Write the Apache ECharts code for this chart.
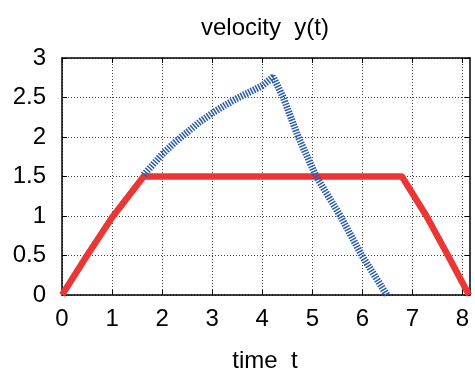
<!DOCTYPE html>
<html>
<head>
<meta charset="utf-8">
<script src="https://cdn.jsdelivr.net/npm/echarts@6/dist/echarts.min.js"></script>
<style>
  html, body { margin: 0; padding: 0; background: #fff; }
  #chart { width: 475px; height: 371px; }
</style>
</head>
<body>
<div id="chart"></div>
<script>
// red: trapezoid profile, blue: curved rise then drop
const redT = [0, 0.5, 1, 1.63, 6.79, 7.28, 7.71, 8.13]
const redV = [0, 0.5, 0.98, 1.5, 1.5, 1.0, 0.5, 0]
const blueT = [1.63, 2, 2.25, 2.5, 2.75, 3, 3.25, 3.5, 3.75, 4, 4.22, 4.42, 4.72, 5.08, 5.56, 5.99, 6.49]
const blueV = [1.52, 1.78, 1.93, 2.06, 2.19, 2.30, 2.40, 2.49, 2.57, 2.65, 2.76, 2.5, 2.0, 1.5, 1.0, 0.5, 0]
const xTicks = [0, 1, 2, 3, 4, 5, 6, 7, 8]
const yTicks = [0, 0.5, 1, 1.5, 2, 2.5, 3]

const font = 'Liberation Sans, Arial, sans-serif'
const pair = (xs, ys) => xs.map((x, i) => [x, ys[i]])

const chart = echarts.init(document.getElementById('chart'), null, { renderer: 'canvas' })

const gridLine = { show: true, lineStyle: { color: '#444', type: [1, 2], width: 1 } }
const tick = { show: true, inside: true, length: 5, lineStyle: { color: '#000', width: 1 } }
const axisLine = { show: true, onZero: false, lineStyle: { color: '#000', width: 1.5 } }
const titleText = { fontFamily: font, fontSize: 24, fontWeight: 'normal', color: '#000' }

chart.setOption({
  animation: false,
  textStyle: { fontFamily: font },
  title: [
    { text: 'velocity  y(t)', left: 260, top: 11, textAlign: 'center', textStyle: titleText },
    { text: 'time  t', left: 260, top: 344, textAlign: 'center', textStyle: titleText }
  ],
  grid: { left: 62, right: 5, top: 58, bottom: 76, outerBoundsMode: 'none', containLabel: false },
  xAxis: [{
    type: 'value', min: 0, max: 8.15, interval: 1,
    axisLine, axisTick: { ...tick, customValues: xTicks },
    splitLine: gridLine,
    axisLabel: { customValues: xTicks, fontSize: 24, color: '#000', margin: 12, fontFamily: font }
  }, {
    type: 'value', position: 'top', min: 0, max: 8.15, interval: 1,
    axisLine, axisTick: { ...tick, customValues: xTicks },
    splitLine: { show: false }, axisLabel: { show: false }
  }],
  yAxis: [{
    type: 'value', min: 0, max: 3, interval: 0.5,
    axisLine, axisTick: { ...tick, customValues: yTicks },
    splitLine: gridLine,
    axisLabel: { customValues: yTicks, fontSize: 24, color: '#000', margin: 16, fontFamily: font }
  }, {
    type: 'value', position: 'right', min: 0, max: 3, interval: 0.5,
    axisLine, axisTick: { ...tick, customValues: yTicks },
    splitLine: { show: false }, axisLabel: { show: false }
  }],
  series: [{
    type: 'line', data: pair(redT, redV), symbol: 'none', z: 3,
    lineStyle: { color: '#ec3636', width: 6.5, join: 'round' }
  }, {
    type: 'line', data: pair(blueT, blueV), symbol: 'none', z: 4,
    lineStyle: { color: '#2a5ca8', width: 7, type: [1.5, 1.3] }
  }]
})
</script>
</body>
</html>
